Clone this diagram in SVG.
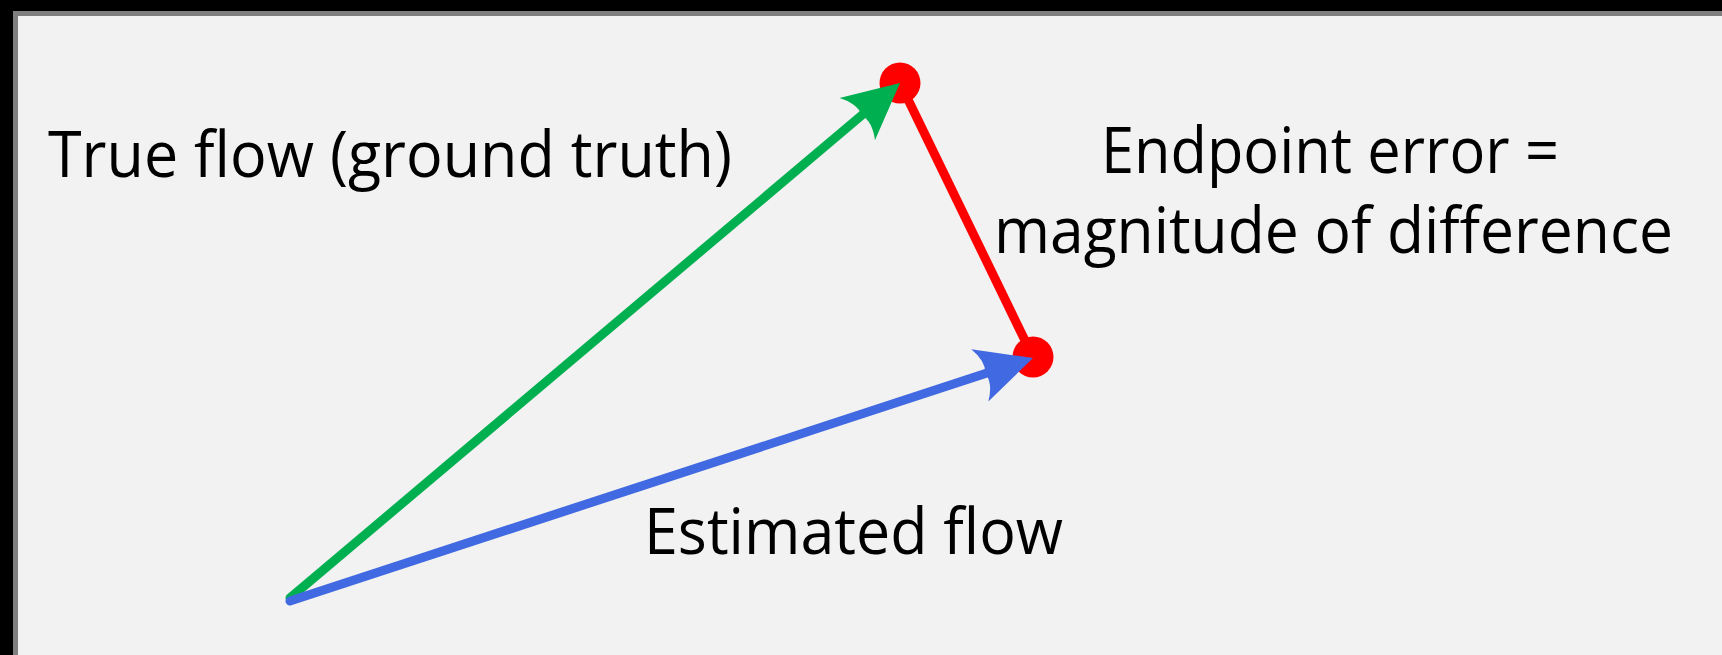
<svg xmlns="http://www.w3.org/2000/svg" width="1722" height="655" viewBox="0 0 1722 655">
  <style>
    .lbl { font-family: "Open Sans", "Liberation Sans", sans-serif; font-size: 64px; fill: #000000; }
    .flow { fill: none; stroke-width: 9; stroke-linecap: round; }
  </style>
  <defs>
    <marker id="headGreen" markerUnits="userSpaceOnUse" orient="auto" refX="10" refY="0" markerWidth="60" markerHeight="60" overflow="visible">
      <path d="M56,0 L0,-27.5 Q10,-12 6,0 Q10,12 0,27.5 Z" fill="#00b050"/>
    </marker>
    <marker id="headBlue" markerUnits="userSpaceOnUse" orient="auto" refX="10" refY="0" markerWidth="60" markerHeight="60" overflow="visible">
      <path d="M56,0 L0,-27.5 Q10,-12 6,0 Q10,12 0,27.5 Z" fill="#4169e1"/>
    </marker>
  </defs>

  <rect x="0" y="0" width="1722" height="655" fill="#000000"/>
  <rect x="13" y="11" width="1709" height="644" fill="#7f7f7f"/>
  <rect x="18" y="16" width="1704" height="639" fill="#f2f2f2"/>

  <g id="connectors">
    <line id="error" x1="900" y1="83" x2="1033" y2="357" stroke="#ff0000" stroke-width="9"/>
    <circle id="true-end" cx="900" cy="83" r="20.5" fill="#ff0000"/>
    <circle id="est-end" cx="1033" cy="357" r="20.5" fill="#ff0000"/>
    <line id="true-flow" class="flow" x1="290" y1="598" x2="864.85" y2="112.67" stroke="#00b050" marker-end="url(#headGreen)"/>
    <line id="est-flow" class="flow" x1="290" y1="601" x2="989.3" y2="372.3" stroke="#4169e1" marker-end="url(#headBlue)"/>
  </g>

  <g id="label-true">
    <text class="lbl" x="48" y="177" textLength="684" lengthAdjust="spacingAndGlyphs">True flow (ground truth)</text>
  </g>
  <g id="label-error">
    <text class="lbl" x="1330" y="173" text-anchor="middle" textLength="458" lengthAdjust="spacingAndGlyphs">Endpoint error =</text>
    <text class="lbl" x="1333.5" y="253" text-anchor="middle" textLength="679" lengthAdjust="spacingAndGlyphs">magnitude of difference</text>
  </g>
  <g id="label-est">
    <text class="lbl" x="644" y="554" textLength="419" lengthAdjust="spacingAndGlyphs">Estimated flow</text>
  </g>
</svg>
